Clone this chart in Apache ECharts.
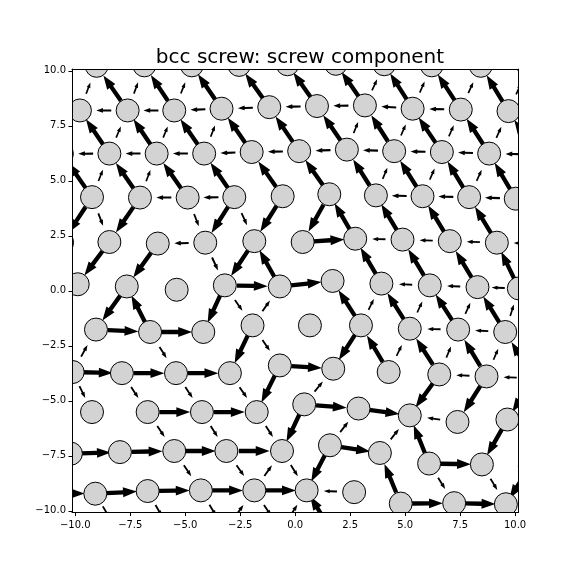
<!DOCTYPE html>
<html><head><meta charset="utf-8">
<script src="https://cdn.jsdelivr.net/npm/echarts@6/dist/echarts.min.js"></script>
<style>html,body{margin:0;padding:0;background:#fff;}#c{width:576px;height:576px;}</style>
</head><body><div id="c"></div>
<script>
const chartTitle = 'bcc screw: screw component';
const tickValues = [-10, -7.5, -5, -2.5, 0, 2.5, 5, 7.5, 10];
const xLimits = [-10.15, 10.15];
const yLimits = [-10.08, 10.08];

// atom rows (data units); rows E and K start with one atom left of the frame (index -1)
const rowA = [[-9.03,10.23],[-6.86,10.25],[-4.70,10.25],[-2.55,10.27],[-0.35,10.30],[1.85,10.32],[4.05,10.30],[6.21,10.25],[8.44,10.23],[10.62,10.20]];
const rowB = [[-9.79,8.20],[-7.62,8.20],[-5.50,8.20],[-3.35,8.28],[-1.18,8.35],[0.99,8.40],[3.17,8.43],[5.34,8.28],[7.53,8.24],[9.70,8.17]];
const rowC = [[-10.61,6.23],[-8.45,6.24],[-6.30,6.24],[-4.14,6.24],[-1.98,6.31],[0.18,6.35],[2.35,6.42],[4.50,6.35],[6.67,6.31],[8.82,6.24],[10.99,6.20]];
const rowD = [[-9.24,4.26],[-7.06,4.24],[-4.89,4.24],[-2.77,4.26],[-0.57,4.30],[1.55,4.39],[3.67,4.34],[5.79,4.30],[7.91,4.26],[10.03,4.19]];
const rowE = [[-10.60,2.20],[-8.45,2.22],[-6.25,2.15],[-4.09,2.19],[-1.86,2.26],[0.34,2.22],[2.73,2.37],[4.88,2.33],[7.03,2.26],[9.17,2.19],[11.30,2.14]];
const rowF = [[-9.89,0.30],[-7.66,0.20],[-5.39,0.05],[-3.20,0.25],[-0.70,0.20],[1.70,0.45],[3.92,0.33],[6.12,0.25],[8.29,0.17],[10.17,0.11]];
const rowG = [[-9.06,-1.76],[-6.60,-1.87],[-4.18,-1.87],[-1.94,-1.57],[0.67,-1.57],[2.99,-1.57],[5.21,-1.72],[7.41,-1.76],[9.55,-1.87]];
const rowH = [[-10.12,-3.69],[-7.88,-3.74],[-5.42,-3.74],[-2.97,-3.74],[-0.70,-3.39],[1.73,-3.54],[4.25,-3.69],[6.55,-3.80],[8.70,-3.89],[10.85,-3.98]];
const rowI = [[-9.24,-5.51],[-6.71,-5.51],[-4.24,-5.51],[-1.75,-5.51],[0.41,-5.16],[2.88,-5.35],[5.21,-5.66],[7.38,-5.96],[9.65,-5.85]];
const rowJ = [[-10.20,-7.40],[-7.97,-7.33],[-5.50,-7.28],[-3.13,-7.28],[-0.60,-7.28],[1.58,-7.02],[3.85,-7.37],[6.09,-7.85],[8.49,-7.89],[10.67,-7.98]];
const rowK = [[-11.47,-9.20],[-9.09,-9.22],[-6.71,-9.10],[-4.29,-9.07],[-1.86,-9.07],[0.52,-9.07],[2.68,-9.15],[4.80,-9.67],[7.23,-9.65],[9.58,-9.70]];
const rowL = [[-8.10,-10.89],[-5.70,-10.89],[-3.20,-10.89],[-0.65,-10.89],[1.58,-10.80]];
const rowFirstIndex = {A:0,B:0,C:0,D:0,E:-1,F:0,G:0,H:0,I:0,J:0,K:-1,L:0};

// differential displacement arrows: [from atom, to atom, arrow length (data units)]
const ddArrows = [
 ['B1','A0',1.4],['B2','A1',1.4],['B3','A2',1.4],['B4','A3',1.4],['B5','A4',1.4],['B6','A5',1.4],['B7','A6',1.4],['B8','A7',1.4],['B9','A8',1.4],
 ['B0','A0',0.55],['B1','A1',0.55],['B2','A2',0.55],['B6','A6',0.55],['B7','A7',0.55],['B8','A8',0.55],['B9','A9',0.55],
 ['B1','B0',0.68],['B2','B1',0.68],['B3','B2',0.68],['B4','B3',0.68],['B5','B4',0.68],['B6','B5',0.68],['B7','B6',0.68],['B8','B7',0.68],
 ['C1','B0',1.4],['C2','B1',1.4],['C3','B2',1.4],['C4','B3',1.4],['C5','B4',1.4],['C6','B5',1.4],['C7','B6',1.4],['C8','B7',1.4],['C9','B8',1.4],['C10','B9',1.4],
 ['C1','B1',0.55],['C2','B2',0.55],['C3','B3',0.55],['C6','B6',0.55],['C7','B7',0.55],['C8','B8',0.55],['C9','B9',0.55],
 ['C1','C0',0.68],['C2','C1',0.68],['C3','C2',0.68],['C4','C3',0.68],['C5','C4',0.68],['C6','C5',0.68],['C7','C6',0.68],['C8','C7',0.68],['C9','C8',0.68],['C10','C9',0.68],
 ['D0','C0',1.4],['D1','C1',1.4],['D2','C2',1.4],['D3','C3',1.4],['D4','C4',1.4],['D5','C5',1.4],['D6','C6',1.4],['D7','C7',1.4],['D8','C8',1.4],['D9','C9',1.4],
 ['D0','C1',0.55],['D1','C2',0.55],['D6','C7',0.55],['D7','C8',0.55],['D8','C9',0.55],['D9','C10',0.55],
 ['D2','D1',0.68],['D3','D2',0.68],['D7','D6',0.68],['D8','D7',0.68],['D9','D8',0.68],
 ['D0','E-1',1.4],['D1','E0',1.4],['D3','E2',1.4],['D4','E3',1.4],['D5','E4',1.4],
 ['D0','E0',0.6],['D2','E2',0.6],['D3','E3',0.6],
 ['E5','D5',1.4],['E6','D6',1.4],['E7','D7',1.4],['E8','D8',1.4],
 ['E2','E1',0.65],['E4','E5',1.4],['E6','E5',0.6],['E7','E6',0.6],['E8','E7',0.6],['E9','E8',0.6],
 ['E0','F0',1.4],['E1','F1',1.4],['E3','F3',1.4],['F4','E3',1.4],['E2','F3',0.65],
 ['F6','E5',1.4],['F7','E6',1.4],['F8','E7',1.4],['F9','E8',1.4],
 ['F3','F4',1.4],['F4','F5',1.4],['F7','F6',0.6],['F8','F7',0.6],['F9','F8',0.6],
 ['F1','G0',1.4],['G1','F1',1.4],['F3','G2',1.4],['F3','G3',0.6],['G3','F4',0.6],['G5','F5',1.4],
 ['G5','F6',0.55],['G6','F6',1.4],['G6','F7',0.55],['G7','F7',1.4],['G7','F8',0.55],['G8','F8',1.4],['G8','F9',0.55],
 ['G0','G1',1.4],['G1','G2',1.4],['G7','G6',0.6],['G8','G7',0.6],
 ['H0','G0',0.6],['G1','H2',0.6],['G3','H3',1.4],['G3','H4',0.6],['G5','H5',1.4],
 ['H6','G5',1.4],['H6','G6',0.55],['H7','G6',1.4],['H7','G7',0.55],['H8','G7',1.4],['H8','G8',0.55],['H9','G8',1.4],
 ['H0','H1',1.4],['H1','H2',1.4],['H2','H3',1.4],['H4','H5',1.4],['H8','H7',0.6],['H9','H8',0.6],
 ['H0','I0',0.6],['H1','I1',0.6],['H2','I2',0.6],['H3','I3',0.6],['H4','I3',1.4],['I4','H5',0.6],
 ['H7','I6',1.4],['H8','I7',1.4],['H9','I8',1.4],
 ['I1','I2',1.4],['I2','I3',1.4],['I4','I5',1.4],['I5','I6',1.4],['I7','I6',0.6],
 ['I1','J2',0.6],['I2','J3',0.6],['I3','J4',0.6],['I4','J4',1.4],['J5','I5',0.6],['J6','I6',0.6],['J7','I6',1.4],['I8','J8',1.4],
 ['J0','J1',1.4],['J1','J2',1.4],['J2','J3',1.4],['J3','J4',1.4],['J5','J6',1.4],['J7','J8',1.4],
 ['J2','K2',0.6],['J3','K3',0.6],['K3','J4',0.6],['J4','K4',0.6],['J5','K4',1.4],['K6','J6',1.4],['J7','K7',0.6],['J8','K8',0.6],['J9','K8',1.4],
 ['K-1','K0',1.4],['K0','K1',1.4],['K1','K2',1.4],['K2','K3',1.4],['K3','K4',1.4],['K5','K4',0.6],['K6','K7',1.4],['K7','K8',1.4],
 ['K0','L0',0.6],['K1','L1',0.6],['K2','L2',0.6],['L2','K3',0.6],['K3','L3',0.6],['L3','K4',0.6],['L4','K4',1.4]
];

const rows = {A:rowA,B:rowB,C:rowC,D:rowD,E:rowE,F:rowF,G:rowG,H:rowH,I:rowI,J:rowJ,K:rowK,L:rowL};
const atomPos = {};
const atomData = [];
Object.keys(rows).forEach(k => {
  rows[k].forEach((p, i) => { atomPos[k + (i + rowFirstIndex[k])] = p; atomData.push(p); });
});

const arrowData = ddArrows.map(([f, t, L]) => {
  const a = atomPos[f], b = atomPos[t];
  const dx = b[0] - a[0], dy = b[1] - a[1];
  const d = Math.hypot(dx, dy);
  const ux = dx / d, uy = dy / d;
  const mx = (a[0] + b[0]) / 2, my = (a[1] + b[1]) / 2;
  return [mx - ux * L / 2, my - uy * L / 2, mx + ux * L / 2, my + uy * L / 2];
});

function renderArrow(params, api) {
  const a = api.coord([api.value(0), api.value(1)]);
  const b = api.coord([api.value(2), api.value(3)]);
  const dx = b[0] - a[0], dy = b[1] - a[1];
  const len = Math.hypot(dx, dy);
  const ux = dx / len, uy = dy / len, nx = -uy, ny = ux;
  const hl = 0.45 * len, hw = 0.16 * len, sw = 0.07 * len;
  const bx = b[0] - ux * hl, by = b[1] - uy * hl;
  const pts = [
    [a[0] + nx * sw, a[1] + ny * sw],
    [bx + nx * sw, by + ny * sw],
    [bx + nx * hw, by + ny * hw],
    [b[0], b[1]],
    [bx - nx * hw, by - ny * hw],
    [bx - nx * sw, by - ny * sw],
    [a[0] - nx * sw, a[1] - ny * sw]
  ];
  return { type: 'polygon', shape: { points: pts }, style: { fill: '#000', stroke: null } };
}

function renderAtom(params, api) {
  const c = api.coord([api.value(0), api.value(1)]);
  return { type: 'circle', shape: { cx: c[0], cy: c[1], r: 11.5 }, style: { fill: '#d3d3d3', stroke: '#000', lineWidth: 1 } };
}

const fmt = v => v.toFixed(1).replace('-', '\u2212');
const labelStyle = { color: '#000', fontSize: 10, fontFamily: 'DejaVu Sans' };
function mainAxis(lims, pos, margin) {
  return {
    type: 'value', min: lims[0], max: lims[1], position: pos, z: 10,
    axisLine: { show: true, onZero: false, lineStyle: { color: '#000', width: 1 } },
    axisTick: { show: true, inside: false, length: 3.5, customValues: tickValues, lineStyle: { color: '#000', width: 1 } },
    axisLabel: Object.assign({ show: true, customValues: tickValues, formatter: fmt, margin: margin }, labelStyle),
    splitLine: { show: false }
  };
}
function frameAxis(lims, pos) {
  return {
    type: 'value', min: lims[0], max: lims[1], position: pos, z: 10,
    axisLine: { show: true, onZero: false, lineStyle: { color: '#000', width: 1 } },
    axisTick: { show: false }, axisLabel: { show: false }, splitLine: { show: false }
  };
}

const chart = echarts.init(document.getElementById('c'), null, { renderer: 'canvas' });
chart.setOption({
  backgroundColor: '#fff',
  animation: false,
  title: {
    text: chartTitle, left: 295, top: 43, textAlign: 'center',
    textStyle: { fontSize: 20, fontWeight: 'normal', color: '#000', fontFamily: 'DejaVu Sans' }
  },
  grid: { left: 72, right: 57.6, top: 69.1, bottom: 63.4, containLabel: false },
  xAxis: [mainAxis(xLimits, 'bottom', 8), frameAxis(xLimits, 'top')],
  yAxis: [mainAxis(yLimits, 'left', 6), frameAxis(yLimits, 'right')],
  series: [
    {
      type: 'custom', renderItem: renderArrow, data: arrowData, clip: true, z: 2, silent: true,
      encode: { x: [0, 2], y: [1, 3] }
    },
    {
      type: 'custom', renderItem: renderAtom, data: atomData, clip: true, z: 3, silent: true,
      encode: { x: 0, y: 1 }
    }
  ]
});
</script></body></html>
